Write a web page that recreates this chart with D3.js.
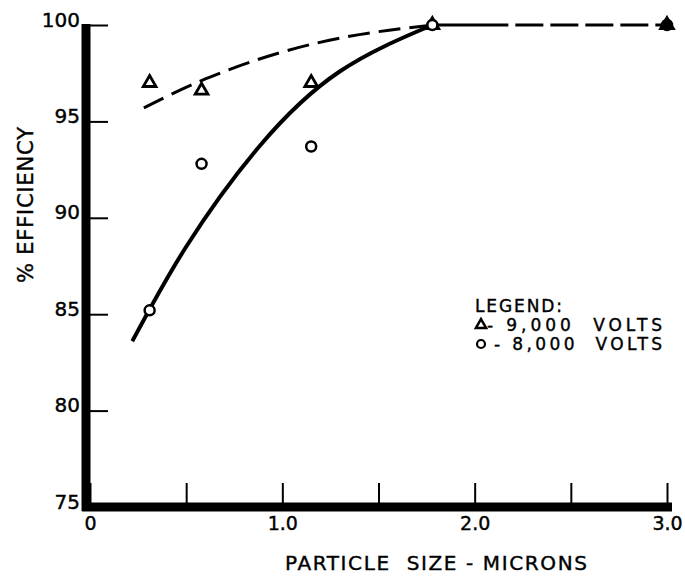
<!DOCTYPE html>
<html>
<head>
<meta charset="utf-8">
<script src="https://d3js.org/d3.v7.min.js"></script>
<style>
  body { margin: 0; background: #fff; }
  text { font-family: "DejaVu Sans", sans-serif; fill: #000; }
</style>
</head>
<body>
<script>
  // particle size (microns) and measured efficiency
  var sizes = [0.31, 0.58, 1.15, 1.78, 3.0];
  var eff9000 = [97.0, 96.6, 97.0, 100, 100];
  var eff8000 = [85.2, 92.8, 93.7, 100, 100];

  // hand drawn fit curves
  var fit8000x = [0.22, 0.50, 0.88, 1.30, 1.78];
  var fit8000y = [83.6, 88.5, 93.7, 97.6, 100];
  var fit9000x = [0.28, 0.60, 1.00, 1.40, 1.78];
  var fit9000y = [95.7, 97.2, 98.6, 99.5, 100];
  var flatX = [1.78, 3.0];
  var flatY = [100, 100];

  var xTicks = [0, 0.5, 1.0, 1.5, 2.0, 2.5, 3.0];
  var xLabels = ["0", "", "1.0", "", "2.0", "", "3.0"];
  var yTicks = [75, 80, 85, 90, 95, 100];

  var width = 685, height = 579;

  var x = d3.scaleLinear().domain([0, 3]).range([90, 667]);
  var y = d3.scaleLinear().domain([75, 100]).range([507, 25]);

  var svg = d3.select("body").append("svg")
    .attr("width", width)
    .attr("height", height);

  // y axis, ticks pointing inward
  var yAxis = svg.append("g")
    .attr("transform", "translate(86,0)")
    .call(d3.axisLeft(y).tickValues(yTicks).tickSize(-22).tickPadding(6).tickFormat(d3.format("d")));
  yAxis.select(".domain").remove();
  yAxis.selectAll(".tick line").attr("stroke", "#000").attr("stroke-width", 2);
  yAxis.selectAll(".tick text")
    .attr("dy", "0.05em")
    .attr("font-size", 20)
    .attr("font-family", "DejaVu Sans")
    .attr("stroke", "#000").attr("stroke-width", 0.4);

  // x axis
  var xAxis = svg.append("g")
    .attr("transform", "translate(0,507)")
    .call(d3.axisBottom(x).tickValues(xTicks).tickSize(-24)
      .tickFormat(function(d, i) { return xLabels[i]; }));
  xAxis.select(".domain").remove();
  xAxis.selectAll(".tick line").attr("stroke", "#000").attr("stroke-width", 2);
  xAxis.selectAll(".tick text")
    .attr("y", 23)
    .attr("dy", 0)
    .attr("font-size", 19)
    .attr("font-family", "DejaVu Sans")
    .attr("stroke", "#000").attr("stroke-width", 0.4);

  // heavy axis lines
  svg.append("line")
    .attr("x1", 86).attr("x2", 86)
    .attr("y1", y(100) - 1).attr("y2", y(75) + 4)
    .attr("stroke", "#000").attr("stroke-width", 9);
  svg.append("line")
    .attr("x1", 82).attr("x2", x(3) + 5)
    .attr("y1", y(75)).attr("y2", y(75))
    .attr("stroke", "#000").attr("stroke-width", 9);

  // curves
  var line = d3.line()
    .x(function(d) { return x(d[0]); })
    .y(function(d) { return y(d[1]); })
    .curve(d3.curveNatural);

  svg.append("path")
    .datum(d3.zip(fit9000x, fit9000y))
    .attr("d", line)
    .attr("fill", "none")
    .attr("stroke", "#000")
    .attr("stroke-width", 3)
    .attr("stroke-dasharray", "22,9");

  svg.append("path")
    .datum(d3.zip(flatX, flatY))
    .attr("d", line)
    .attr("fill", "none")
    .attr("stroke", "#000")
    .attr("stroke-width", 3)
    .attr("stroke-dasharray", "48,0,28,7,28,7,28,7,28,7,28,7,28,7,28,7,28,7,28,7,28,7,28,7,28,7,28,7,28,7,28,7,60");

  svg.append("path")
    .datum(d3.zip(fit8000x, fit8000y))
    .attr("d", line)
    .attr("fill", "none")
    .attr("stroke", "#000")
    .attr("stroke-width", 4);

  // markers
  var tri = d3.symbol().type(d3.symbolTriangle).size(70);

  svg.selectAll(".tri")
    .data(d3.zip(sizes, eff9000))
    .enter().append("path")
    .attr("class", "tri")
    .attr("d", tri)
    .attr("transform", function(d) { return "translate(" + x(d[0]) + "," + y(d[1]) + ")"; })
    .attr("fill", "#fff")
    .attr("stroke", "#000")
    .attr("stroke-width", 2.8);

  svg.selectAll(".circ")
    .data(d3.zip(sizes, eff8000))
    .enter().append("circle")
    .attr("class", "circ")
    .attr("cx", function(d) { return x(d[0]); })
    .attr("cy", function(d) { return y(d[1]); })
    .attr("r", 5)
    .attr("fill", function(d) { return d[0] === 3.0 ? "#000" : "#fff"; })
    .attr("stroke", "#000")
    .attr("stroke-width", 2.5);

  // axis titles
  svg.append("text")
    .attr("x", 436).attr("y", 570)
    .attr("text-anchor", "middle")
    .attr("font-size", 20)
    .attr("textLength", 302)
    .attr("lengthAdjust", "spacing")
    .attr("stroke", "#000").attr("stroke-width", 0.4)
    .style("white-space", "pre")
    .text("PARTICLE  SIZE - MICRONS");

  svg.append("text")
    .attr("transform", "translate(33,205) rotate(-90)")
    .attr("text-anchor", "middle")
    .attr("font-size", 21)
    .attr("textLength", 156)
    .attr("lengthAdjust", "spacing")
    .attr("stroke", "#000").attr("stroke-width", 0.4)
    .text("% EFFICIENCY");

  // legend
  var legend = svg.append("g")
    .attr("stroke", "#000").attr("stroke-width", 0.4);
  legend.append("text")
    .attr("x", 475).attr("y", 312)
    .attr("font-size", 17)
    .attr("textLength", 87)
    .text("LEGEND:");
  legend.append("path")
    .attr("d", d3.symbol().type(d3.symbolTriangle).size(45))
    .attr("transform", "translate(481,325)")
    .attr("fill", "#fff")
    .attr("stroke", "#000")
    .attr("stroke-width", 2.5);
  legend.append("text")
    .attr("x", 487).attr("y", 331)
    .attr("font-size", 17)
    .attr("textLength", 175)
    .attr("lengthAdjust", "spacing")
    .style("white-space", "pre")
    .text("- 9,000  VOLTS");
  legend.append("circle")
    .attr("cx", 481).attr("cy", 344)
    .attr("r", 4)
    .attr("fill", "#fff")
    .attr("stroke", "#000")
    .attr("stroke-width", 2.2);
  legend.append("text")
    .attr("x", 494).attr("y", 350)
    .attr("font-size", 17)
    .attr("textLength", 168)
    .attr("lengthAdjust", "spacing")
    .style("white-space", "pre")
    .text("- 8,000  VOLTS");
</script>
</body>
</html>
